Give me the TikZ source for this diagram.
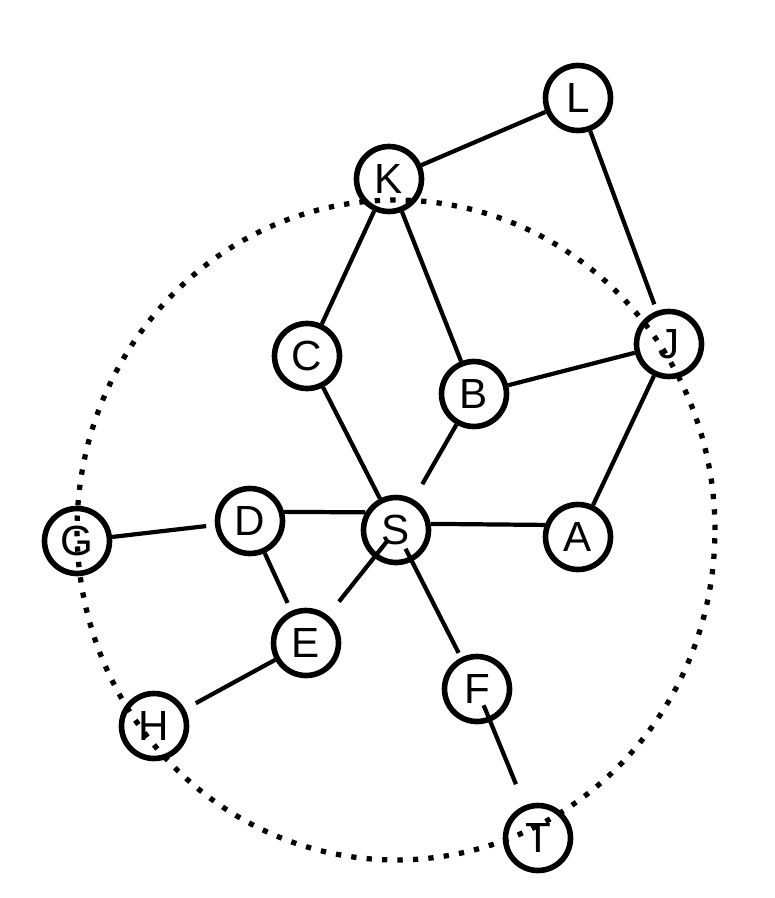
\documentclass[tikz,border=0pt]{standalone}
\usepackage{fontspec}
\setmainfont{Liberation Sans}

\begin{document}
\begin{tikzpicture}[
    x=0.02cm, y=-0.02cm,
    font=\fontsize{24}{26}\selectfont,
    vertex/.style={draw,circle,line width=3.2pt,minimum size=1.3cm,inner sep=0pt},
    edge/.style={line width=2.4pt},
    ring/.style={line width=3pt,dash pattern=on 3pt off 5.8pt}
  ]
  \useasboundingbox (0,0) rectangle (774,898);

  % vertices
  \node[vertex] (L) at (578,98)  {L};
  \node[vertex] (K) at (389,179) {K};
  \node[vertex] (C) at (307,356) {C};
  \node[vertex] (B) at (474,394) {B};
  \node[vertex] (J) at (669,344) {J};
  \node[vertex] (S) at (396,530) {S};
  \node[vertex] (A) at (578,537) {A};
  \node[vertex] (D) at (250,521) {D};
  \node[vertex] (G) at (77,541)  {G};
  \node[vertex] (E) at (306,643) {E};
  \node[vertex] (F) at (477,689) {F};
  \node[vertex] (H) at (154,726) {H};
  \node[vertex] (T) at (538,838) {T};

  % edges, top part
  \draw[edge] (L) -- (K);
  \draw[edge,shorten >=4pt] (L) -- (J);
  \draw[edge] (K) -- (C);
  \draw[edge] (K) -- (B);
  \draw[edge] (B) -- (J);
  \draw[edge] (J) -- (A);
  \draw[edge] (C) -- (S);
  \draw[edge,shorten <=10pt] (S) -- (B);
  \draw[edge] (S.10) -- (A.160);

  % edges, lower part
  \draw[edge] (D.15) -- (S.150);
  \draw[edge,shorten >=5pt] (G) -- (D);
  \draw[edge,shorten >=5pt] (D) -- (E);
  \draw[edge,shorten <=8pt,shorten >=10pt] (S.center) -- (E);
  \draw[edge,shorten <=12pt,shorten >=3pt] (S.center) -- (F);
  \draw[edge,shorten >=7pt] (E) -- (H);
  \draw[edge,shorten <=10pt,shorten >=13pt] (F.center) -- (T);

  % dotted ring round S
  \draw[ring] (S.center) ellipse [x radius=6.38cm, y radius=6.6cm];

\end{tikzpicture}
\end{document}
